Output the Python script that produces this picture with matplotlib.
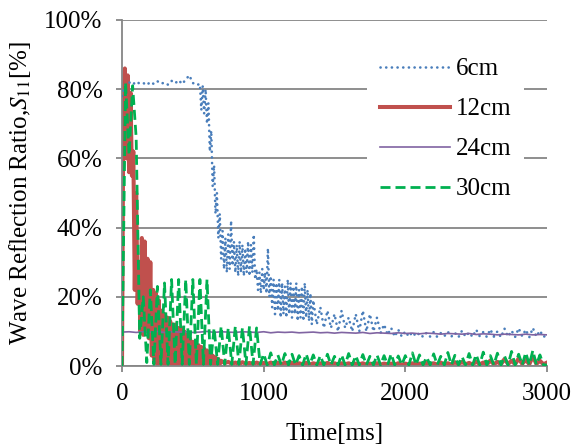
import matplotlib
matplotlib.use("Agg")
import matplotlib.pyplot as plt
from matplotlib.ticker import FuncFormatter

# ---------------- data (values in %, time in ms) ----------------
# sampling instants (denser where the signals oscillate quickly)
time_6cm_ms = list(range(0, 526, 25)) + list(range(550, 1351, 10)) + list(range(1375, 3001, 25))
time_12cm_ms = list(range(0, 701, 10)) + list(range(725, 3001, 25))
time_24cm_ms = list(range(0, 3001, 50))
time_30cm_ms = list(range(0, 3001, 25))

s_6cm = [
    # 0 - 525 ms (25 ms)
    78.0, 81.5, 82.0, 81.3, 82.2, 81.6, 81.8, 81.2,
    82.1, 81.5, 82.3, 81.6, 81.9, 81.3, 82.4, 81.7,
    82.6, 81.5, 82.8, 84.0, 81.8, 81.2,
    # 550 - 1350 ms (10 ms)
    81.5, 74.0, 81.0, 73.0, 80.0, 70.0, 76.0, 62.0, 68.0, 52.0,
    58.0, 44.0, 50.0, 37.0, 44.0, 31.0, 39.0, 28.0, 37.0, 27.0,
    38.0, 28.0, 42.0, 29.0, 36.0, 27.0, 35.0, 26.0, 36.0, 27.0,
    35.0, 26.0, 34.0, 27.0, 36.0, 26.0, 35.0, 27.0, 38.0, 25.0,
    28.0, 22.0, 27.0, 21.0, 28.0, 22.0, 27.0, 21.0, 34.0, 20.0,
    26.0, 17.0, 25.0, 15.0, 24.0, 16.0, 25.0, 14.0, 24.0, 15.0,
    23.0, 14.0, 25.0, 15.0, 24.0, 14.0, 23.0, 15.0, 24.0, 13.0,
    22.0, 14.0, 23.0, 13.0, 24.0, 14.0, 22.0, 13.0, 21.0, 12.0,
    19.0,
    # 1375 - 3000 ms (25 ms)
    12.0,
    17.0, 11.0, 16.0, 11.0, 15.0, 10.0, 16.0, 11.0,
    14.0, 10.0, 15.0, 10.0, 16.0, 10.0, 15.0, 10.0,
    14.0, 9.5, 12.0, 9.0, 11.0, 8.5, 10.5, 8.5,
    10.0, 8.5, 9.8, 8.6, 9.5, 8.4, 9.6, 8.5,
    9.8, 8.4, 9.5, 8.6, 9.9, 8.5, 9.6, 8.3,
    10.2, 8.5, 9.7, 8.4, 10.5, 8.6, 9.8, 8.4,
    10.6, 8.5, 10.0, 8.3, 10.8, 8.5, 10.2, 8.4,
    10.9, 8.6, 10.5, 8.3, 11.0, 8.5, 10.2, 8.4,
    9.0,
]

s_12cm = [
    # 0 - 700 ms (10 ms)
    0.0, 78.0, 86.0, 60.0, 84.0, 56.0, 79.0, 55.0, 62.0, 22.0,
    50.0, 18.0, 30.0, 10.0, 37.0, 9.0, 36.0, 10.0, 31.0, 8.0,
    30.0, 3.0, 22.0, 1.0, 21.0, 0.5, 19.0, 0.5, 16.0, 0.5,
    15.0, 0.5, 14.0, 0.5, 13.0, 0.5, 12.0, 0.5, 12.0, 0.5,
    11.0, 0.5, 11.0, 0.5, 10.0, 0.5, 9.0, 0.5, 8.0, 0.5,
    7.0, 0.5, 6.5, 0.5, 6.0, 0.5, 5.5, 0.5, 5.0, 0.5,
    4.5, 0.5, 4.0, 0.5, 3.0, 0.5, 2.5, 0.5, 2.0, 0.5,
    1.5,
    # 725 - 3000 ms (25 ms)
    0.8, 1.2, 0.6,
    1.0, 0.5, 1.1, 0.6, 0.9, 0.5, 1.0, 0.6,
    0.9, 0.5, 1.0, 0.6, 0.9, 0.5, 1.0, 0.5,
    0.9, 0.5, 0.8, 0.5, 0.9, 0.4, 0.8, 0.5,
    0.8, 0.4, 0.9, 0.5, 0.8, 0.4, 0.8, 0.5,
    0.8, 0.4, 0.7, 0.5, 0.8, 0.4, 0.7, 0.4,
    0.8, 0.4, 0.7, 0.5, 0.7, 0.4, 0.8, 0.4,
    0.7, 0.4, 0.8, 0.5, 0.7, 0.4, 0.9, 0.5,
    0.8, 0.4, 1.0, 0.5, 0.8, 0.4, 1.1, 0.5,
    1.2, 0.5, 0.9, 0.4, 1.3, 0.5, 1.0, 0.4,
    1.6, 0.5, 1.2, 0.5, 2.0, 0.6, 1.5, 0.5,
    2.2, 0.6, 1.8, 0.5, 2.8, 0.6, 1.5, 0.5,
    1.0,
]

s_24cm = [
    9.8, 9.9, 9.7, 9.9, 9.8, 10.0, 9.7, 9.9,
    9.8, 9.9, 9.7, 9.8, 10.0, 9.7, 9.9, 9.8,
    9.7, 9.9, 9.8, 9.7, 9.9, 9.6, 9.8, 9.7,
    9.8, 9.6, 9.7, 9.8, 9.6, 9.7, 9.5, 9.7,
    9.6, 9.5, 9.7, 9.4, 9.6, 9.5, 9.4, 9.6,
    9.4, 9.5, 9.3, 9.5, 9.4, 9.2, 9.4, 9.3,
    9.2, 9.4, 9.1, 9.3, 9.2, 9.0, 9.2, 9.1,
    9.0, 9.2, 9.0, 9.1,
    9.0,
]

s_30cm = [
    0.0, 82.0, 61.0, 81.0, 66.0, 8.0, 20.0, 1.0,
    22.0, 0.5, 23.0, 0.5, 24.0, 0.5, 25.0, 0.5,
    25.0, 0.5, 25.0, 0.5, 25.0, 0.5, 25.0, 0.5,
    25.0, 0.5, 11.0, 0.5, 11.5, 0.5, 11.0, 0.5,
    11.5, 0.5, 11.0, 0.5, 11.5, 0.5, 11.0, 0.5,
    3.5, 0.3, 3.8, 0.3, 3.2, 0.3, 3.6, 0.3,
    3.4, 0.3, 3.0, 0.3, 3.5, 0.3, 3.2, 0.3,
    3.0, 0.3, 3.4, 0.3, 2.8, 0.3, 3.2, 0.3,
    3.6, 0.3, 3.0, 0.3, 3.3, 0.3, 2.8, 0.3,
    3.2, 0.3, 3.0, 0.3, 3.5, 0.3, 2.9, 0.3,
    3.0, 0.3, 3.8, 0.3, 3.2, 0.3, 2.6, 0.3,
    3.5, 0.3, 2.8, 0.3, 3.9, 0.3, 3.1, 0.3,
    2.7, 0.3, 3.6, 0.3, 3.3, 0.3, 4.0, 0.3,
    3.0, 0.3, 3.7, 0.3, 2.9, 0.3, 4.2, 0.3,
    3.4, 0.3, 3.9, 0.3, 4.5, 0.3, 3.2, 0.3,
    0.3,
]

series_labels = ["6cm", "12cm", "24cm", "30cm"]
x_ticks = [0, 1000, 2000, 3000]
y_ticks = [0, 20, 40, 60, 80, 100]

# ---------------- style ----------------
plt.rcParams["font.family"] = ["Liberation Serif", "DejaVu Serif"]
plt.rcParams["mathtext.fontset"] = "stix"
FS = 18
GRAY = "#868686"

fig = plt.figure(figsize=(5.74, 4.44), dpi=100)
ax = fig.add_axes([122 / 574, 1 - 366 / 444, 425 / 574, 346 / 444])

ax.plot(time_6cm_ms, s_6cm, color="#4A7EBB", lw=1.9, linestyle=(0, (0.05, 2.1)),
        dash_capstyle="round", label=series_labels[0], zorder=3)
ax.plot(time_12cm_ms, s_12cm, color="#C0504D", lw=2.9, label=series_labels[1], zorder=2)
ax.plot(time_24cm_ms, s_24cm, color="#8064A2", lw=1.2, label=series_labels[2], zorder=4)
ax.plot(time_30cm_ms, s_30cm, color="#00B050", lw=2.0, linestyle=(0, (3.6, 1.8)),
        label=series_labels[3], zorder=5)

ax.set_xlim(0, 3000)
ax.set_ylim(0, 100)
ax.set_xticks(x_ticks)
ax.set_yticks(y_ticks)
ax.yaxis.set_major_formatter(FuncFormatter(lambda v, p: f"{int(v)}%"))

ax.grid(axis="y", color=GRAY, lw=1.3)
ax.set_axisbelow(True)
for s in ["top", "right"]:
    ax.spines[s].set_visible(False)
for s in ["left", "bottom"]:
    ax.spines[s].set_color(GRAY)
    ax.spines[s].set_linewidth(1.3)
ax.tick_params(axis="both", direction="out", color=GRAY, width=1.3, length=4,
               labelsize=FS)
ax.tick_params(axis="y", pad=10)
ax.tick_params(axis="x", pad=8)

ax.set_xlabel("Time[ms]", fontsize=FS, labelpad=13)
ax.set_ylabel(r"Wave Reflection Ratio,$S_{11}$[%]", fontsize=FS, labelpad=8)

leg = ax.legend(loc="upper left", bbox_to_anchor=(0.548, 0.963), fontsize=FS,
                handlelength=2.8, handletextpad=0.25, labelspacing=0.7,
                frameon=True, fancybox=False, borderpad=0.5)
leg.get_frame().set_facecolor("white")
leg.get_frame().set_edgecolor("none")
leg.get_frame().set_alpha(1.0)

fig.savefig("out.png", dpi=100)
